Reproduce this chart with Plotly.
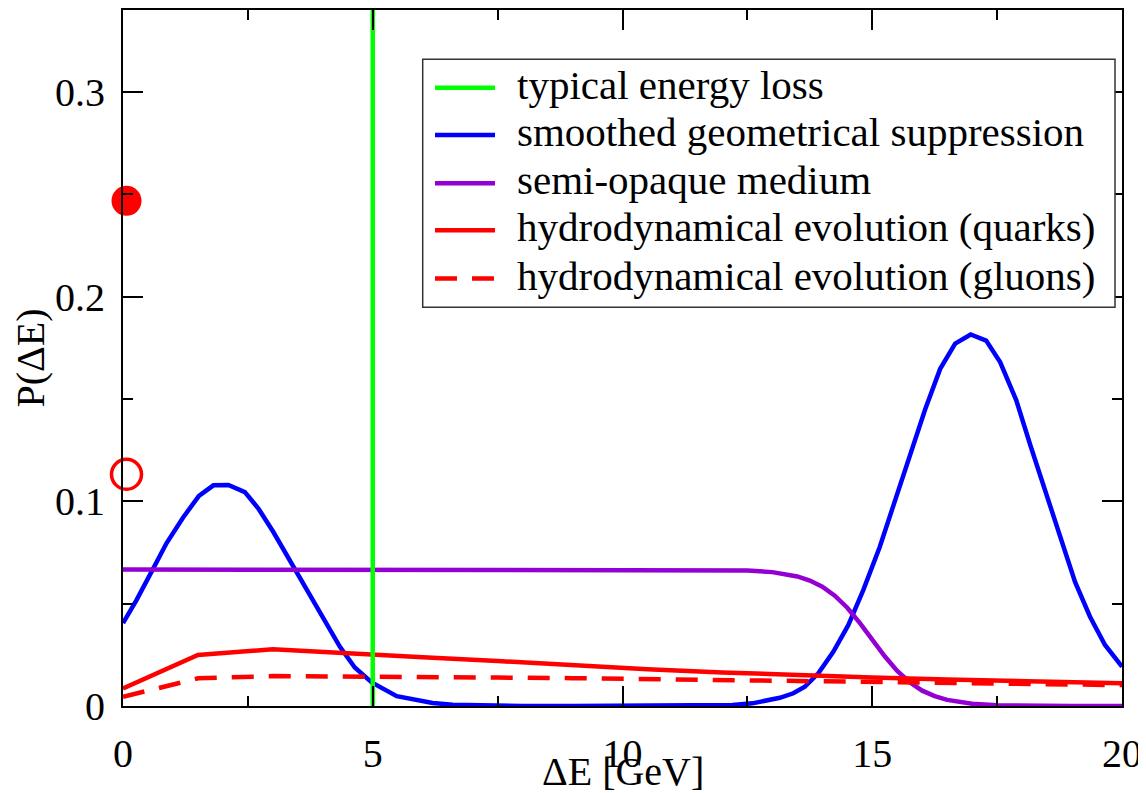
import plotly.graph_objects as go

# smoothed geometrical suppression (blue)
geo_x = [0, 0.27, 0.57, 0.87, 1.2, 1.52, 1.81, 2.11, 2.44, 2.71, 3.01, 3.34, 3.68, 4.01,
         4.34, 4.64, 4.98, 5.48, 5.8, 6.2, 6.6, 7.2, 8, 9, 10, 11, 11.6, 12.2, 12.6, 12.9,
         13.15, 13.42, 13.65, 13.92, 14.22, 14.52, 14.82, 15.15, 15.46, 15.76, 16.06, 16.36,
         16.66, 16.97, 17.28, 17.56, 17.88, 18.17, 18.46, 18.76, 19.06, 19.36, 19.66, 20]
geo_y = [0.0405, 0.0517, 0.0655, 0.0795, 0.092, 0.1026, 0.1078, 0.108, 0.1045, 0.0965,
         0.085, 0.071, 0.0566, 0.042, 0.029, 0.0188, 0.0115, 0.0048, 0.0032, 0.0015, 0.0006,
         0.00015, 0, 0, 0, 0, 0.0001, 0.0005, 0.0013, 0.0025, 0.0040, 0.0062, 0.0094, 0.016,
         0.0265, 0.0395, 0.0566, 0.0777, 0.1005, 0.1233, 0.145, 0.1647, 0.177, 0.1815, 0.1785,
         0.168, 0.1496, 0.127, 0.1054, 0.0826, 0.0606, 0.0436, 0.0298, 0.0192]

# semi-opaque medium (violet)
semi_x = [0, 11, 12, 12.5, 13, 13.25, 13.5, 13.75, 14, 14.25, 14.5, 14.75, 15, 15.25, 15.5,
          15.75, 16, 16.25, 16.5, 17, 17.5, 18, 19, 20]
semi_y = [0.0667, 0.0667, 0.0665, 0.0662, 0.0654, 0.0646, 0.0633, 0.0613, 0.0583, 0.0539,
          0.0480, 0.0406, 0.0323, 0.0243, 0.0171, 0.0116, 0.0075, 0.0048, 0.0030, 0.0011,
          0.0004, 0.0002, 0.0, 0.0]

# hydrodynamical evolution
hydro_x = [0, 1.5, 3, 4.5, 6, 7.5, 9, 10.5, 12, 13.5, 15, 16.5, 18, 19.5, 20]
quarks_y = [0.0086, 0.0249, 0.0277, 0.0256, 0.0238, 0.0220, 0.0199, 0.0180, 0.0164, 0.0150,
            0.0139, 0.0130, 0.0122, 0.0114, 0.0111]
gluons_y = [0.0045, 0.0135, 0.0146, 0.0145, 0.0142, 0.0139, 0.0136, 0.0132, 0.0127, 0.0121,
            0.0116, 0.0111, 0.0107, 0.0103, 0.0102]

# typical energy loss
typical_x = [5, 5]
typical_y = [0, 0.34]

# probability of no energy loss (quarks / gluons)
p0_x = [0.07]
p0_quarks = [0.2468]
p0_gluons = [0.1132]

names = ["typical energy loss", "smoothed geometrical suppression", "semi-opaque medium",
         "hydrodynamical evolution (quarks)", "hydrodynamical evolution (gluons)"]
colors = ["#00FF00", "#0000FF", "#9400D3", "#FF0000", "#FF0000"]
dashes = ["solid", "solid", "solid", "solid", "22px,15px"]

FONT = "Liberation Serif"
LW = 4.5

fig = go.Figure()
fig.add_trace(go.Scatter(x=geo_x, y=geo_y, mode="lines",
                         line=dict(color=colors[1], width=LW)))
fig.add_trace(go.Scatter(x=semi_x, y=semi_y, mode="lines",
                         line=dict(color=colors[2], width=LW)))
fig.add_trace(go.Scatter(x=hydro_x, y=quarks_y, mode="lines",
                         line=dict(color=colors[3], width=LW)))
fig.add_trace(go.Scatter(x=hydro_x, y=gluons_y, mode="lines",
                         line=dict(color=colors[4], width=LW, dash=dashes[4])))
fig.add_trace(go.Scatter(x=typical_x, y=typical_y, mode="lines",
                         line=dict(color=colors[0], width=LW)))
fig.add_trace(go.Scatter(x=p0_x, y=p0_quarks, mode="markers", cliponaxis=False,
                         marker=dict(symbol="circle", size=30, color="#FF0000")))
fig.add_trace(go.Scatter(x=p0_x, y=p0_gluons, mode="markers", cliponaxis=False,
                         marker=dict(symbol="circle-open", size=30, color="#FF0000",
                                     line=dict(width=3.5, color="#FF0000"))))

# plot area in window pixels: x 123..1122, y 8..706
def px_x(p):
    return (p - 123) / 999

def px_y(p):
    return (706 - p) / 698

# hand-made legend box like the xmgrace one
shapes = [dict(type="rect", xref="paper", yref="paper",
               x0=px_x(422.7), x1=px_x(1115), y0=px_y(306), y1=px_y(57.3),
               fillcolor="white", line=dict(color="#333333", width=1.5), layer="above")]
annotations = []
rows = [86, 133.3, 181.7, 229, 277.3]
for name, col, dsh, r in zip(names, colors, dashes, rows):
    shapes.append(dict(type="line", xref="paper", yref="paper",
                       x0=px_x(435), x1=px_x(495), y0=px_y(r), y1=px_y(r),
                       line=dict(color=col, width=LW, dash=dsh), layer="above"))
    annotations.append(dict(text=name, xref="paper", yref="paper", x=px_x(515), y=px_y(r - 3),
                            xanchor="left", yanchor="middle", showarrow=False,
                            font=dict(family=FONT, size=41, color="black")))

# x axis title placed by hand so it can sit close under the tick labels
annotations.append(dict(text="ΔE [GeV]", xref="paper", yref="paper", x=0.5, y=px_y(772),
                        xanchor="center", yanchor="middle", showarrow=False,
                        font=dict(family=FONT, size=40, color="black")))

axis_common = dict(showgrid=False, zeroline=False, showline=True, linecolor="black",
                   linewidth=2, mirror="ticks", ticks="inside", ticklen=20, tickwidth=2,
                   tickcolor="black", tickfont=dict(family=FONT, size=40, color="black"))

# the page body has an 8px margin, so the figure is 8px smaller on each side
fig.update_layout(
    width=1138, height=785,
    margin=dict(l=115, r=24, t=0, b=87),
    font=dict(family=FONT, size=40, color="black"),
    plot_bgcolor="white", paper_bgcolor="white",
    showlegend=False,
    shapes=shapes, annotations=annotations,
    xaxis=dict(range=[0, 20], dtick=5, tick0=0,
               minor=dict(dtick=2.5, ticklen=10, tickwidth=2, tickcolor="black", ticks="inside"),
               ticklabelstandoff=11,
               **axis_common),
    yaxis=dict(range=[0, 0.34], dtick=0.1, tick0=0,
               minor=dict(dtick=0.05, ticklen=10, tickwidth=2, tickcolor="black", ticks="inside"),
               title=dict(text="P(ΔE)", font=dict(family=FONT, size=40, color="black"),
                          standoff=10),
               ticklabelstandoff=8,
               **axis_common),
)

fig.write_html("out.html")
